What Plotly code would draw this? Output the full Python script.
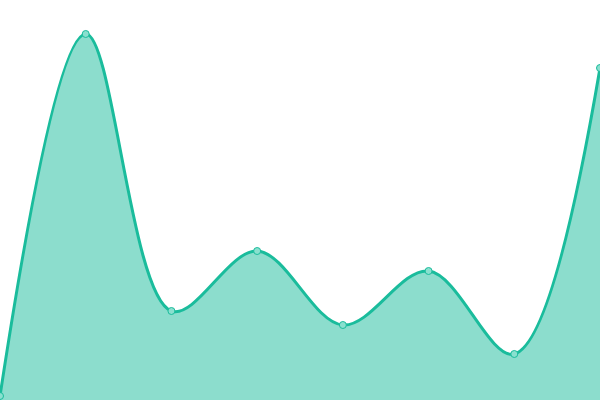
import plotly.graph_objects as go

x_vals = [0, 1, 2, 3, 4, 5, 6, 7]
y_vals = [4, 366, 89, 149, 75, 129, 46, 332]

fig = go.Figure()
fig.add_trace(go.Scatter(
    x=x_vals, y=y_vals,
    mode="lines+markers",
    line=dict(color="#1abc9c", width=3, shape="spline", smoothing=1),
    marker=dict(size=7, color="#8ae0cf", line=dict(color="#1abc9c", width=1)),
    fill="tozeroy",
    fillcolor="rgba(26,188,156,0.5)",
    hoverinfo="skip",
    cliponaxis=False,
))
fig.update_layout(
    width=600, height=400,
    margin=dict(l=0, r=0, t=0, b=0),
    paper_bgcolor="white", plot_bgcolor="white",
    showlegend=False,
    xaxis=dict(range=[0, 7], visible=False, fixedrange=True),
    yaxis=dict(range=[0, 400], visible=False, fixedrange=True),
)
fig.write_html(
    "out.html",
    config={"displayModeBar": False},
    post_script="document.body.style.margin='0';document.body.style.overflow='hidden';",
)
